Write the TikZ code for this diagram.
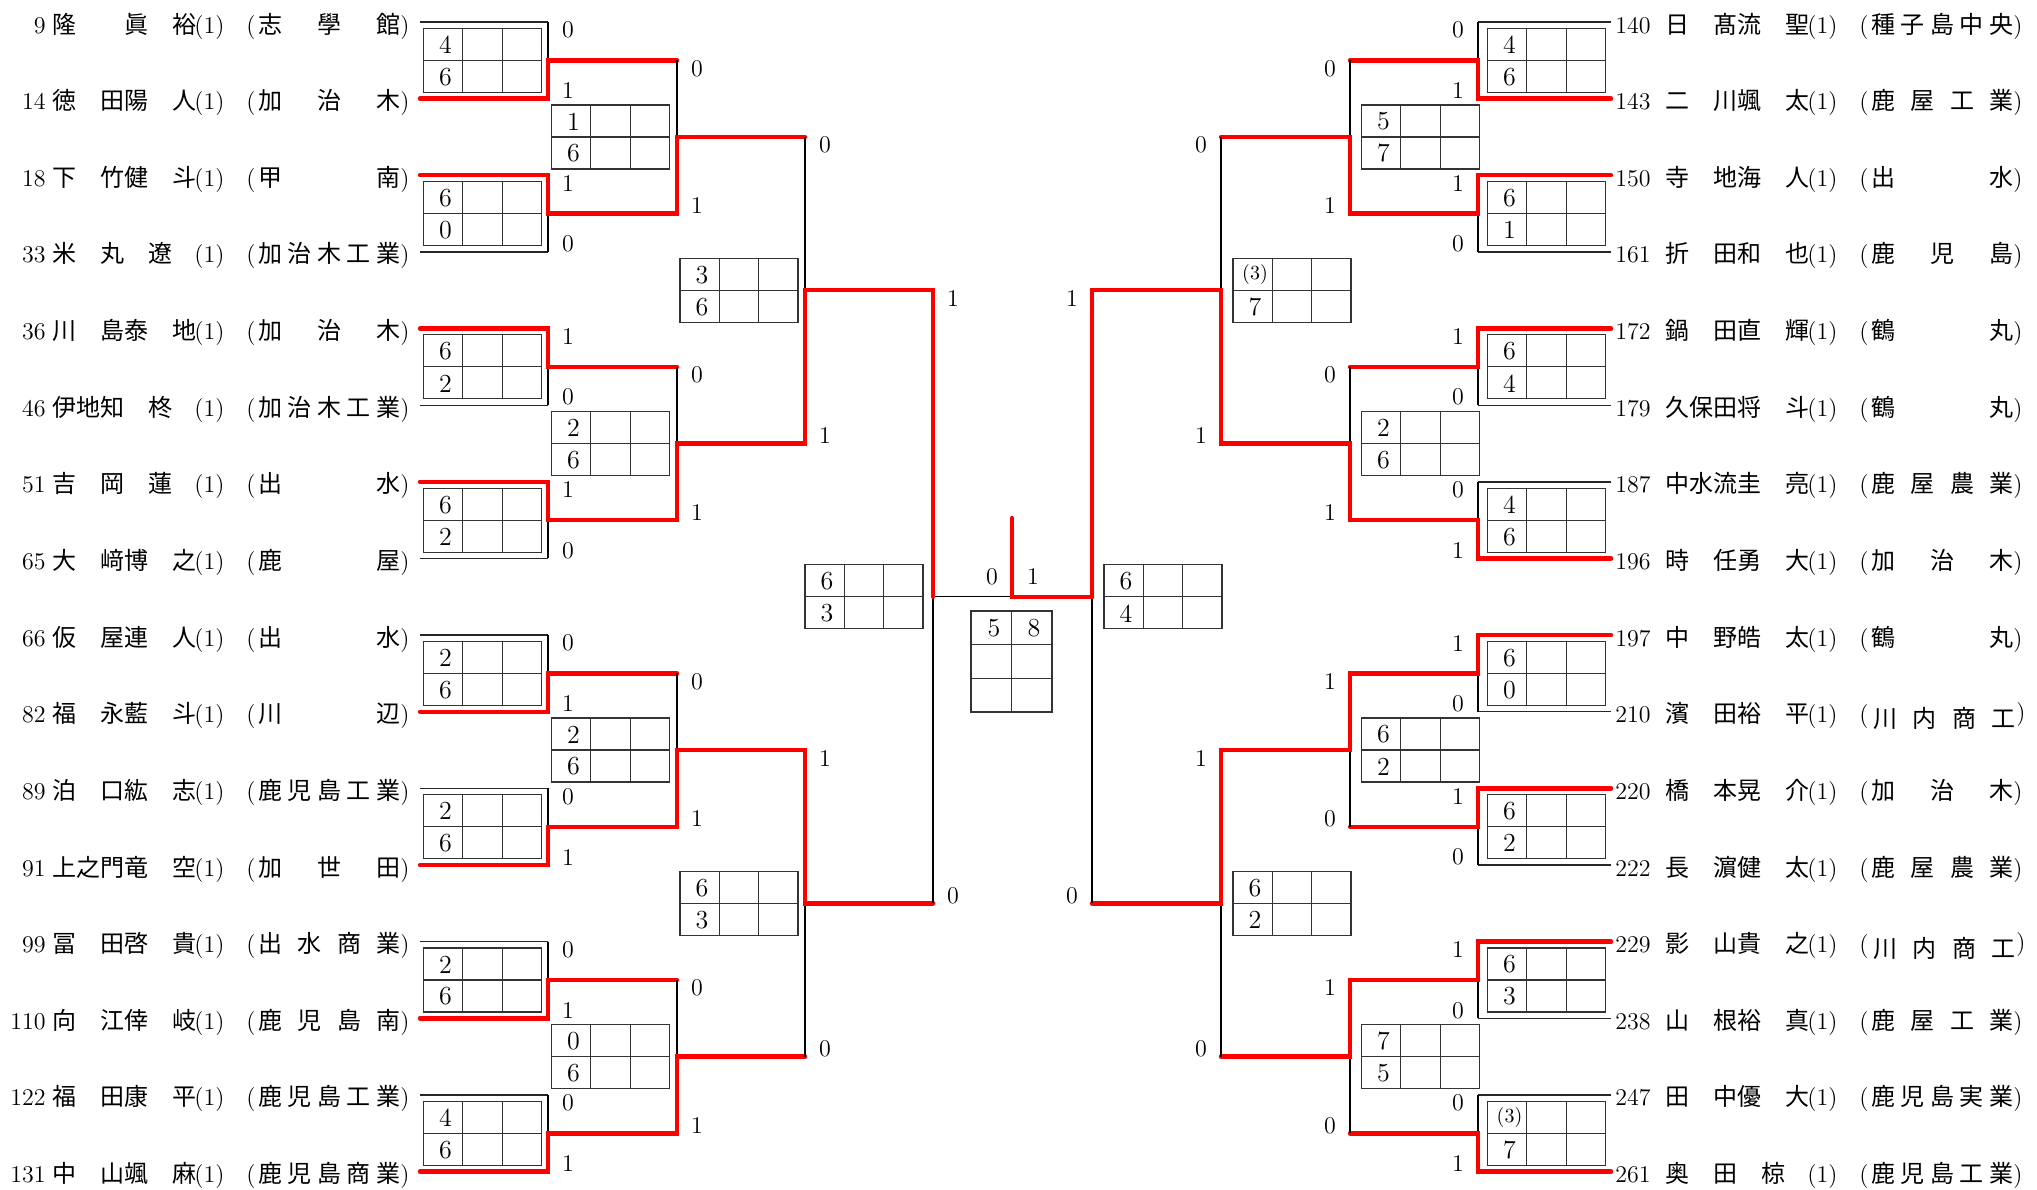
\documentclass[tikz,border=0pt]{standalone}
\usepackage{fontspec}
\newfontfamily\jp{Noto Sans CJK JP}
\tikzset{
  brk/.style={line width=0.65pt, black},
  pl/.style={line width=0.65pt, black!85},
  win/.style={line width=2.2pt, red, line cap=round},
  bx/.style={draw=black!80, line width=0.6pt, inner sep=0pt, outer sep=0pt, minimum width=59pt, minimum height=32pt},
  bxl/.style={draw=black!80, line width=0.6pt},
  lbl/.style={font=\fontsize{12}{12}\selectfont, inner sep=0pt},
  bnum/.style={font=\fontsize{13}{13}\selectfont, inner sep=0pt},
  txt/.style={font=\fontsize{12}{12}\selectfont, inner sep=0pt, anchor=base west},
  jtxt/.style={font=\jp\fontsize{12}{12}\selectfont, inner sep=0pt, anchor=base west},
}
% match: id, xprev, xv, xnext, ytop, ybot, top label, bottom label, label dx
\newcommand\bmatch[9]{%
  \pgfmathsetmacro\bmY{(#5+#6)/2}%
  \pgfmathsetmacro\bmX{#3+#9}%
  \coordinate (#1-t) at (#3,#5);
  \coordinate (#1-b) at (#3,#6);
  \coordinate (#1-m) at (#3,\bmY);
  \coordinate (#1-o) at (#4,\bmY);
  \draw[brk] (#1-t) -- (#1-b);
  \ifnum#7=1
    \draw[win] (#2,#5) -- (#1-t) -- (#1-m) -- (#1-o);
  \else
    \draw[win] (#2,#6) -- (#1-b) -- (#1-m) -- (#1-o);
  \fi
  \node[lbl] (#1-lt) at (\bmX,{#5+8}) {#7};
  \node[lbl] (#1-lb) at (\bmX,{#6-8}) {#8};
}
% score box: id, cx, cy, a, b
\newcommand\scorebx[5]{%
  \node[bx] (#1) at (#2,#3) {};
  \draw[bxl] ({#2-59},#3) -- ({#2+59},#3);
  \draw[bxl] ({#2-19.67},{#3-32}) -- ({#2-19.67},{#3+32});
  \draw[bxl] ({#2+19.67},{#3-32}) -- ({#2+19.67},{#3+32});
  \node[bnum] (#1-a) at ({#2-37},{#3-15.5}) {#4};
  \node[bnum] (#1-b) at ({#2-37},{#3+16.5}) {#5};
}
% player row: id, number anchor, number x, c0, y, number, name
\newcommand\prow[7]{%
  \node[txt, anchor=#2] (#1-n) at (#3,{#5+11}) {#6};
  \node[jtxt] (#1-nm) at (#4,{#5+11}) {#7};
  \node[txt] (#1-g) at ({#4+142},{#5+11}) {(1)};
  \node[txt] (#1-p) at ({#4+194},{#5+11}) {(};
}
% school: id, c0, y, n, list
\newcommand\school[5]{%
  \foreach \ch [count=\k from 0] in {#5} {
    \node[jtxt] (#1-s\k) at ({#2+206+\k*118/(#4-1)},{#3+11}) {\ch};
  }
  \node[txt] (#1-q) at ({#2+348},{#3+11}) {)};
}
\newcommand\schoolg[5]{%
  \foreach \ch [count=\k from 0] in {#5} {
    \node[jtxt] (#1-s\k) at ({#2+208+\k*118/(#4-1)},{#3+16}) {\ch};
  }
  \node[txt] (#1-q) at ({#2+351},{#3+9}) {)};
}
\begin{document}
\begin{tikzpicture}[x=0.5pt,y=-0.5pt]
\useasboundingbox (0,0) rectangle (2037,1189);

% player lines
\foreach \y [count=\i] in {22,98.64,175.28,251.92,328.56,405.2,481.84,558.48,635.12,711.76,788.4,865.04,941.68,1018.32,1094.96,1171.6}{
  \coordinate (lp\i) at (420,\y); \coordinate (lq\i) at (548,\y);
  \draw[pl] (lp\i) -- (lq\i);
  \coordinate (rp\i) at (1611,\y); \coordinate (rq\i) at (1478,\y);
  \draw[pl] (rp\i) -- (rq\i);
}

% score boxes left
\scorebx{lb1a}{482.5}{60.32}{4}{6}
\scorebx{lb1b}{482.5}{213.6}{6}{0}
\scorebx{lb1c}{482.5}{366.88}{6}{2}
\scorebx{lb1d}{482.5}{520.16}{6}{2}
\scorebx{lb1e}{482.5}{673.44}{2}{6}
\scorebx{lb1f}{482.5}{826.72}{2}{6}
\scorebx{lb1g}{482.5}{980}{2}{6}
\scorebx{lb1h}{482.5}{1133.28}{4}{6}
\scorebx{lb2a}{610.5}{136.96}{1}{6}
\scorebx{lb2b}{610.5}{443.52}{2}{6}
\scorebx{lb2c}{610.5}{750.08}{2}{6}
\scorebx{lb2d}{610.5}{1056.64}{0}{6}
\scorebx{lb3a}{739}{290.24}{3}{6}
\scorebx{lb3b}{739}{903.36}{6}{3}
\scorebx{lb4a}{864}{596.8}{6}{3}
% score boxes right
\scorebx{rb1a}{1546.5}{60.32}{4}{6}
\scorebx{rb1b}{1546.5}{213.6}{6}{1}
\scorebx{rb1c}{1546.5}{366.88}{6}{4}
\scorebx{rb1d}{1546.5}{520.16}{4}{6}
\scorebx{rb1e}{1546.5}{673.44}{6}{0}
\scorebx{rb1f}{1546.5}{826.72}{6}{2}
\scorebx{rb1g}{1546.5}{980}{6}{3}
\scorebx{rb1h}{1546.5}{1133.28}{{\fontsize{10}{10}\selectfont(3)}}{7}
\scorebx{rb2a}{1420.5}{136.96}{5}{7}
\scorebx{rb2b}{1420.5}{443.52}{2}{6}
\scorebx{rb2c}{1420.5}{750.08}{6}{2}
\scorebx{rb2d}{1420.5}{1056.64}{7}{5}
\scorebx{rb3a}{1292}{290.24}{{\fontsize{10}{10}\selectfont(3)}}{7}
\scorebx{rb3b}{1292}{903.36}{6}{2}
\scorebx{rb4a}{1163}{596.8}{6}{4}

% final box
\node[draw=black!80, line width=0.6pt, inner sep=0pt, minimum width=40.5pt, minimum height=50.5pt] (fbox) at (1011.5,661.5) {};
\draw[bxl] (fbox.north) -- (fbox.south);
\draw[bxl] (971,644.8) -- (1052,644.8);
\draw[bxl] (971,678.2) -- (1052,678.2);
\node[bnum] (fbox-a) at (994,628) {5};
\node[bnum] (fbox-b) at (1034,628) {8};

% final line (black)
\coordinate (fl) at (933,596.8);
\coordinate (fr) at (1092,596.8);
\coordinate (fm) at (1012,596.8);
\coordinate (champ) at (1012,518);
\draw[brk] (fl) -- (fr);

% left matches
\bmatch{l1a}{420}{548}{677}{22}{98.64}{0}{1}{20}
\bmatch{l1b}{420}{548}{677}{175.28}{251.92}{1}{0}{20}
\bmatch{l1c}{420}{548}{677}{328.56}{405.2}{1}{0}{20}
\bmatch{l1d}{420}{548}{677}{481.84}{558.48}{1}{0}{20}
\bmatch{l1e}{420}{548}{677}{635.12}{711.76}{0}{1}{20}
\bmatch{l1f}{420}{548}{677}{788.4}{865.04}{0}{1}{20}
\bmatch{l1g}{420}{548}{677}{941.68}{1018.32}{0}{1}{20}
\bmatch{l1h}{420}{548}{677}{1094.96}{1171.6}{0}{1}{20}
\bmatch{l2a}{548}{677}{805}{60.32}{213.6}{0}{1}{20}
\bmatch{l2b}{548}{677}{805}{366.88}{520.16}{0}{1}{20}
\bmatch{l2c}{548}{677}{805}{673.44}{826.72}{0}{1}{20}
\bmatch{l2d}{548}{677}{805}{980}{1133.28}{0}{1}{20}
\bmatch{l3a}{677}{805}{933}{136.96}{443.52}{0}{1}{20}
\bmatch{l3b}{677}{805}{933}{750.08}{1056.64}{1}{0}{20}
\bmatch{l4a}{805}{933}{933}{290.24}{903.36}{1}{0}{20}
% right matches
\bmatch{r1a}{1611}{1478}{1350}{22}{98.64}{0}{1}{-20}
\bmatch{r1b}{1611}{1478}{1350}{175.28}{251.92}{1}{0}{-20}
\bmatch{r1c}{1611}{1478}{1350}{328.56}{405.2}{1}{0}{-20}
\bmatch{r1d}{1611}{1478}{1350}{481.84}{558.48}{0}{1}{-20}
\bmatch{r1e}{1611}{1478}{1350}{635.12}{711.76}{1}{0}{-20}
\bmatch{r1f}{1611}{1478}{1350}{788.4}{865.04}{1}{0}{-20}
\bmatch{r1g}{1611}{1478}{1350}{941.68}{1018.32}{1}{0}{-20}
\bmatch{r1h}{1611}{1478}{1350}{1094.96}{1171.6}{0}{1}{-20}
\bmatch{r2a}{1478}{1350}{1221}{60.32}{213.6}{0}{1}{-20}
\bmatch{r2b}{1478}{1350}{1221}{366.88}{520.16}{0}{1}{-20}
\bmatch{r2c}{1478}{1350}{1221}{673.44}{826.72}{1}{0}{-20}
\bmatch{r2d}{1478}{1350}{1221}{980}{1133.28}{1}{0}{-20}
\bmatch{r3a}{1350}{1221}{1092}{136.96}{443.52}{0}{1}{-20}
\bmatch{r3b}{1350}{1221}{1092}{750.08}{1056.64}{1}{0}{-20}
\bmatch{r4a}{1221}{1092}{1092}{290.24}{903.36}{1}{0}{-20}

% final (red: right side wins)
\draw[win] (fr) -- (fm) -- (champ);
\node[lbl] (fl0) at (992,577) {0};
\node[lbl] (fl1) at (1033,577) {1};

% left names
\prow{L0}{base east}{46}{52}{22}{9}{隆　　眞　裕}\school{L0}{52}{22}{3}{志,學,館}
\prow{L1}{base east}{46}{52}{98.64}{14}{徳　田陽　人}\school{L1}{52}{98.64}{3}{加,治,木}
\prow{L2}{base east}{46}{52}{175.28}{18}{下　竹健　斗}\school{L2}{52}{175.28}{2}{甲,南}
\prow{L3}{base east}{46}{52}{251.92}{33}{米　丸　遼　}\school{L3}{52}{251.92}{5}{加,治,木,工,業}
\prow{L4}{base east}{46}{52}{328.56}{36}{川　島泰　地}\school{L4}{52}{328.56}{3}{加,治,木}
\prow{L5}{base east}{46}{52}{405.2}{46}{伊地知　柊　}\school{L5}{52}{405.2}{5}{加,治,木,工,業}
\prow{L6}{base east}{46}{52}{481.84}{51}{吉　岡　蓮　}\school{L6}{52}{481.84}{2}{出,水}
\prow{L7}{base east}{46}{52}{558.48}{65}{大　﨑博　之}\school{L7}{52}{558.48}{2}{鹿,屋}
\prow{L8}{base east}{46}{52}{635.12}{66}{仮　屋連　人}\school{L8}{52}{635.12}{2}{出,水}
\prow{L9}{base east}{46}{52}{711.76}{82}{福　永藍　斗}\school{L9}{52}{711.76}{2}{川,辺}
\prow{L10}{base east}{46}{52}{788.4}{89}{泊　口紘　志}\school{L10}{52}{788.4}{5}{鹿,児,島,工,業}
\prow{L11}{base east}{46}{52}{865.04}{91}{上之門竜　空}\school{L11}{52}{865.04}{3}{加,世,田}
\prow{L12}{base east}{46}{52}{941.68}{99}{冨　田啓　貴}\school{L12}{52}{941.68}{4}{出,水,商,業}
\prow{L13}{base east}{46}{52}{1018.32}{110}{向　江倖　岐}\school{L13}{52}{1018.32}{4}{鹿,児,島,南}
\prow{L14}{base east}{46}{52}{1094.96}{122}{福　田康　平}\school{L14}{52}{1094.96}{5}{鹿,児,島,工,業}
\prow{L15}{base east}{46}{52}{1171.6}{131}{中　山颯　麻}\school{L15}{52}{1171.6}{5}{鹿,児,島,商,業}

% right names
\prow{R0}{base west}{1615}{1665}{22}{140}{日　髙流　聖}\school{R0}{1665}{22}{5}{種,子,島,中,央}
\prow{R1}{base west}{1615}{1665}{98.64}{143}{二　川颯　太}\school{R1}{1665}{98.64}{4}{鹿,屋,工,業}
\prow{R2}{base west}{1615}{1665}{175.28}{150}{寺　地海　人}\school{R2}{1665}{175.28}{2}{出,水}
\prow{R3}{base west}{1615}{1665}{251.92}{161}{折　田和　也}\school{R3}{1665}{251.92}{3}{鹿,児,島}
\prow{R4}{base west}{1615}{1665}{328.56}{172}{鍋　田直　輝}\school{R4}{1665}{328.56}{2}{鶴,丸}
\prow{R5}{base west}{1615}{1665}{405.2}{179}{久保田将　斗}\school{R5}{1665}{405.2}{2}{鶴,丸}
\prow{R6}{base west}{1615}{1665}{481.84}{187}{中水流圭　亮}\school{R6}{1665}{481.84}{4}{鹿,屋,農,業}
\prow{R7}{base west}{1615}{1665}{558.48}{196}{時　任勇　大}\school{R7}{1665}{558.48}{3}{加,治,木}
\prow{R8}{base west}{1615}{1665}{635.12}{197}{中　野皓　太}\school{R8}{1665}{635.12}{2}{鶴,丸}
\prow{R9}{base west}{1615}{1665}{711.76}{210}{濱　田裕　平}\schoolg{R9}{1665}{711.76}{4}{川,内,商,工}
\prow{R10}{base west}{1615}{1665}{788.4}{220}{橋　本晃　介}\school{R10}{1665}{788.4}{3}{加,治,木}
\prow{R11}{base west}{1615}{1665}{865.04}{222}{長　濵健　太}\school{R11}{1665}{865.04}{4}{鹿,屋,農,業}
\prow{R12}{base west}{1615}{1665}{941.68}{229}{影　山貴　之}\schoolg{R12}{1665}{941.68}{4}{川,内,商,工}
\prow{R13}{base west}{1615}{1665}{1018.32}{238}{山　根裕　真}\school{R13}{1665}{1018.32}{4}{鹿,屋,工,業}
\prow{R14}{base west}{1615}{1665}{1094.96}{247}{田　中優　大}\school{R14}{1665}{1094.96}{5}{鹿,児,島,実,業}
\prow{R15}{base west}{1615}{1665}{1171.6}{261}{奥　田　椋　}\school{R15}{1665}{1171.6}{5}{鹿,児,島,工,業}
\end{tikzpicture}
\end{document}
